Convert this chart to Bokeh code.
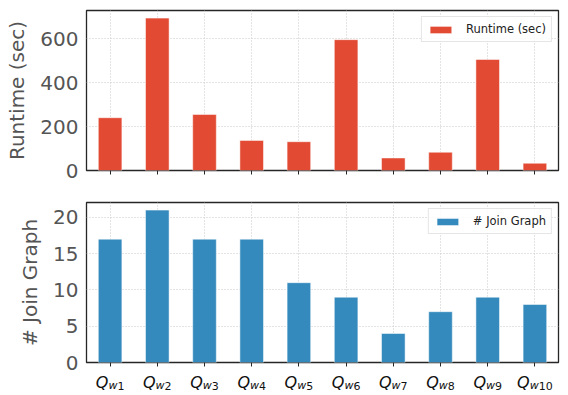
from bokeh.plotting import figure
from bokeh.layouts import column
from bokeh.models import Range1d, FixedTicker, ColumnDataSource
from bokeh.core.properties import value
from bokeh.embed import file_html
from bokeh.resources import INLINE

# ---- data ----
query_ids = ["1", "2", "3", "4", "5", "6", "7", "8", "9", "10"]
runtime = [240, 693, 255, 137, 131, 595, 57, 83, 505, 33]
join_graph = [17, 21, 17, 17, 11, 9, 4, 7, 9, 8]
runtime_ticks = [0, 200, 400, 600]
join_ticks = [0, 5, 10, 15, 20]

xs = list(range(len(query_ids)))
FONT = "DejaVu Sans"
RED = "#E24A33"
BLUE = "#348ABD"
FRAME = "#262626"
W = 564
LEFT = 86
RIGHT = 6


def style(p, yticks):
    p.outline_line_color = FRAME
    p.outline_line_width = 1.3
    p.yaxis.ticker = FixedTicker(ticks=yticks)
    p.xgrid.ticker = FixedTicker(ticks=xs)
    for g in (p.xgrid, p.ygrid):
        g.grid_line_color = "#c8c8c8"
        g.grid_line_dash = "1 2"
        g.grid_line_width = 1
    p.yaxis.axis_line_color = None
    p.yaxis.major_tick_out = 0
    p.yaxis.major_tick_in = 0
    p.yaxis.minor_tick_line_color = None
    p.yaxis.major_label_standoff = 8
    p.yaxis.major_label_text_font = FONT
    p.yaxis.major_label_text_font_size = "20px"
    p.yaxis.major_label_text_color = "#555555"
    p.yaxis.axis_label_text_font = FONT
    p.yaxis.axis_label_text_font_size = "20px"
    p.yaxis.axis_label_text_font_style = "normal"
    p.yaxis.axis_label_text_color = "#555555"
    p.yaxis.axis_label_standoff = 8
    # x tick marks only (labels drawn separately)
    p.xaxis.ticker = FixedTicker(ticks=xs)
    p.xaxis.axis_line_color = None
    p.xaxis.major_tick_out = 4
    p.xaxis.major_tick_in = 0
    p.xaxis.major_tick_line_color = FRAME
    p.xaxis.minor_tick_line_color = None
    p.xaxis.major_label_standoff = 0
    p.xaxis.major_label_text_font_size = "2px"
    p.xaxis.major_label_overrides = {x: "" for x in xs}
    lg = p.legend[0]
    lg.location = "top_right"
    lg.margin = 6
    lg.padding = 5
    lg.spacing = 0
    lg.glyph_width = 27
    lg.glyph_height = 9
    lg.label_height = 14
    lg.label_standoff = 12
    lg.label_text_font = FONT
    lg.label_text_font_size = "11.5px"
    lg.label_text_color = "#222222"
    lg.border_line_color = "#cccccc"
    lg.border_line_width = 1
    lg.background_fill_alpha = 0.85


# ---- top panel: runtime ----
p1 = figure(width=W, height=186, output_backend="svg", toolbar_location=None,
            x_range=Range1d(-0.5, 9.5), y_range=Range1d(0, max(runtime) * 1.05),
            min_border_left=LEFT, min_border_right=RIGHT, min_border_top=10, min_border_bottom=16)
p1.vbar(x=xs, top=runtime, width=0.5, fill_color=RED, line_color="white",
        line_alpha=0.5, line_width=1, legend_label="Runtime (sec)")
p1.yaxis.axis_label = "Runtime (sec)"
style(p1, runtime_ticks)

# ---- bottom panel: join graphs ----
p2 = figure(width=W, height=190, output_backend="svg", toolbar_location=None,
            x_range=p1.x_range, y_range=Range1d(0, max(join_graph) * 1.05),
            min_border_left=LEFT, min_border_right=RIGHT, min_border_top=16, min_border_bottom=14)
p2.vbar(x=xs, top=join_graph, width=0.5, fill_color=BLUE, line_color="white",
        line_alpha=0.5, line_width=1, legend_label="# Join Graph")
p2.yaxis.axis_label = "# Join Graph"
style(p2, join_ticks)

# ---- x tick labels Q_{w i} (transparent strip, slightly overlapping p2's border) ----
H3 = 25
p3 = figure(width=W, height=H3, output_backend="svg", toolbar_location=None,
            x_range=p1.x_range, y_range=Range1d(0, H3),
            x_axis_location=None, y_axis_location=None,
            min_border_left=LEFT, min_border_right=RIGHT, min_border_top=0, min_border_bottom=0)
p3.margin = (-6, 0, 0, 0)
p3.outline_line_color = None
p3.xgrid.visible = False
p3.ygrid.visible = False
p3.background_fill_color = None
p3.border_fill_color = None

QW, WW, DW = 12.6, 9.0, 7.0
lefts = [-(QW + WW + DW * len(q)) / 2 for q in query_ids]
src = ColumnDataSource(dict(
    x=xs,
    q=["Q"] * len(xs),
    w=["w"] * len(xs),
    n=query_ids,
    off_q=lefts,
    off_w=[l + QW for l in lefts],
    off_n=[l + QW + WW for l in lefts],
))
p3.text(x="x", y=13, text="q", x_offset="off_q", source=src, text_align="left",
        text_baseline="alphabetic", text_font=value(FONT), text_font_size="16px",
        text_font_style="italic", text_color="#111111")
p3.text(x="x", y=10, text="w", x_offset="off_w", source=src, text_align="left",
        text_baseline="alphabetic", text_font=value(FONT), text_font_size="11px",
        text_font_style="italic", text_color="#111111")
p3.text(x="x", y=10, text="n", x_offset="off_n", source=src, text_align="left",
        text_baseline="alphabetic", text_font=value(FONT), text_font_size="11px",
        text_color="#111111")

layout = column(p1, p2, p3, spacing=0)
open("out.html", "w").write(file_html(layout, INLINE))
